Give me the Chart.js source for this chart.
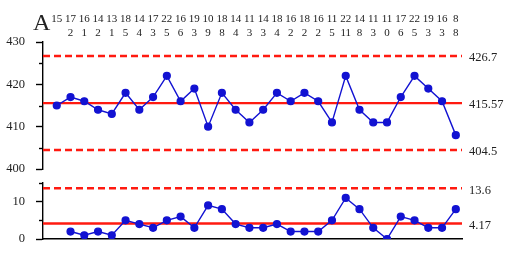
<!DOCTYPE html>
<html>
<head>
<meta charset="utf-8">
<script src="https://cdn.jsdelivr.net/npm/chart.js@4.4.0/dist/chart.umd.min.js"></script>
<style>
  html, body { margin: 0; padding: 0; background: #fff; overflow: hidden; }
  #wrap { position: relative; width: 509px; height: 254px; overflow: hidden; }
  canvas { position: absolute; left: 0; }
</style>
</head>
<body>
<div id="wrap">
  <canvas id="chartX" width="509" height="176" style="top:0"></canvas>
  <canvas id="chartR" width="509" height="78" style="top:176px"></canvas>
</div>
<script>
// individual values and moving ranges
const values = [415, 417, 416, 414, 413, 418, 414, 417, 422, 416, 419, 410, 418, 414, 411,
                414, 418, 416, 418, 416, 411, 422, 414, 411, 411, 417, 422, 419, 416, 408];
const ranges = [null, 2, 1, 2, 1, 5, 4, 3, 5, 6, 3, 9, 8, 4, 3,
                3, 4, 2, 2, 2, 5, 11, 8, 3, 0, 6, 5, 3, 3, 8];

// numbers printed above the chart
const valueLabels = ['15', '17', '16', '14', '13', '18', '14', '17', '22', '16', '19', '10', '18', '14', '11',
                     '14', '18', '16', '18', '16', '11', '22', '14', '11', '11', '17', '22', '19', '16', '8'];
const rangeLabels = ['', '2', '1', '2', '1', '5', '4', '3', '5', '6', '3', '9', '8', '4', '3',
                     '3', '4', '2', '2', '2', '5', '11', '8', '3', '0', '6', '5', '3', '3', '8'];

// control limits
const xUcl = 426.7, xCenter = 415.57, xLcl = 404.5;
const rUcl = 13.6, rCenter = 4.17;
const xLimitLabels = ['426.7', '415.57', '404.5'];
const rLimitLabels = ['13.6', '4.17'];

const X_MIN = -1, X_MAX = 29.45;
const FONT = '"Liberation Serif", "Times New Roman", serif';
const BLUE = '#1212d2';
const RED = '#ff1a10';

function seriesPoints(arr) {
    return arr.map((v, i) => ({ x: i, y: v }));
}
function flatLine(y) {
    return [{ x: X_MIN, y: y }, { x: X_MAX, y: y }];
}

function limitDataset(y, dashed) {
    return {
        data: flatLine(y),
        borderColor: RED,
        borderWidth: 2.4,
        borderDash: dashed ? [7, 4] : [],
        pointRadius: 0,
        order: 2
    };
}

function seriesDataset(arr) {
    return {
        data: seriesPoints(arr),
        borderColor: BLUE,
        backgroundColor: BLUE,
        borderWidth: 1.4,
        pointRadius: 3.4,
        pointBackgroundColor: BLUE,
        pointBorderColor: BLUE,
        spanGaps: false,
        order: 1
    };
}

// short minor ticks + limit labels on the right
const sidePlugin = {
    id: 'side',
    afterDraw(chart, args, opts) {
        const ctx = chart.ctx;
        const y = chart.scales.y;
        const left = chart.chartArea.left;
        ctx.save();
        ctx.strokeStyle = '#000';
        ctx.lineWidth = 1.4;
        y.ticks.forEach(t => {
            if (t.value % 10 !== 0) {
                const py = Math.round(y.getPixelForValue(t.value)) + 0.5;
                ctx.beginPath();
                ctx.moveTo(left - 4, py);
                ctx.lineTo(left, py);
                ctx.stroke();
            }
        });
        ctx.fillStyle = '#222';
        ctx.font = '12.5px ' + FONT;
        ctx.textAlign = 'left';
        ctx.textBaseline = 'middle';
        opts.values.forEach((v, i) => {
            ctx.fillText(opts.labels[i], chart.chartArea.right + 7, y.getPixelForValue(v) + 2);
        });
        ctx.restore();
    }
};

// the two rows of numbers over the top chart and the letter
const headerPlugin = {
    id: 'header',
    afterDraw(chart) {
        const ctx = chart.ctx;
        const x = chart.scales.x;
        ctx.save();
        ctx.fillStyle = '#222';
        ctx.font = '24px ' + FONT;
        ctx.textAlign = 'left';
        ctx.textBaseline = 'alphabetic';
        ctx.fillText('A', 33, 30);
        ctx.font = '11px ' + FONT;
        ctx.textAlign = 'center';
        valueLabels.forEach((s, i) => ctx.fillText(s, x.getPixelForValue(i), 21.5));
        rangeLabels.forEach((s, i) => ctx.fillText(s, x.getPixelForValue(i), 36));
        ctx.restore();
    }
};

function yAxis(min, max) {
    return {
        min: min,
        max: max,
        afterFit: s => {
            s.width = 43;
            s.paddingTop = 0;
            s.paddingBottom = 0;
        },
        afterBuildTicks: s => {
            s.ticks = [];
            for (let v = min; v <= max; v += 5) s.ticks.push({ value: v });
        },
        border: { display: true, color: '#000', width: 1.4 },
        grid: {
            drawOnChartArea: false,
            drawTicks: true,
            tickLength: 7,
            tickWidth: 1.4,
            tickColor: c => (c.tick && c.tick.value % 10 === 0) ? '#000' : 'rgba(0,0,0,0)'
        },
        ticks: {
            padding: 11,
            color: '#222',
            font: { family: FONT, size: 12.5 },
            callback: v => (v % 10 === 0) ? String(v) : ''
        }
    };
}

new Chart(document.getElementById('chartX'), {
    type: 'line',
    data: {
        datasets: [
            seriesDataset(values),
            limitDataset(xUcl, true),
            limitDataset(xCenter, false),
            limitDataset(xLcl, true)
        ]
    },
    options: {
        responsive: false,
        animation: false,
        layout: { autoPadding: false, padding: { left: 0, right: 47, top: 42, bottom: 7 } },
        plugins: {
            legend: { display: false },
            tooltip: { enabled: false },
            side: { values: [xUcl, xCenter, xLcl], labels: xLimitLabels }
        },
        scales: {
            x: { type: 'linear', min: X_MIN, max: X_MAX, display: false },
            y: yAxis(400, 430)
        }
    },
    plugins: [sidePlugin, headerPlugin]
});

new Chart(document.getElementById('chartR'), {
    type: 'line',
    data: {
        datasets: [
            seriesDataset(ranges),
            limitDataset(rUcl, true),
            limitDataset(rCenter, false)
        ]
    },
    options: {
        responsive: false,
        animation: false,
        layout: { autoPadding: false, padding: { left: 0, right: 47, top: 7, bottom: 15 } },
        plugins: {
            legend: { display: false },
            tooltip: { enabled: false },
            side: { values: [rUcl, rCenter], labels: rLimitLabels }
        },
        scales: {
            x: {
                type: 'linear', min: X_MIN, max: X_MAX,
                afterFit: s => { s.height = 0; },
                border: { display: true, color: '#000', width: 1.4 },
                grid: { display: false },
                ticks: { display: false }
            },
            y: yAxis(0, 15)
        }
    },
    plugins: [sidePlugin]
});
</script>
</body>
</html>
